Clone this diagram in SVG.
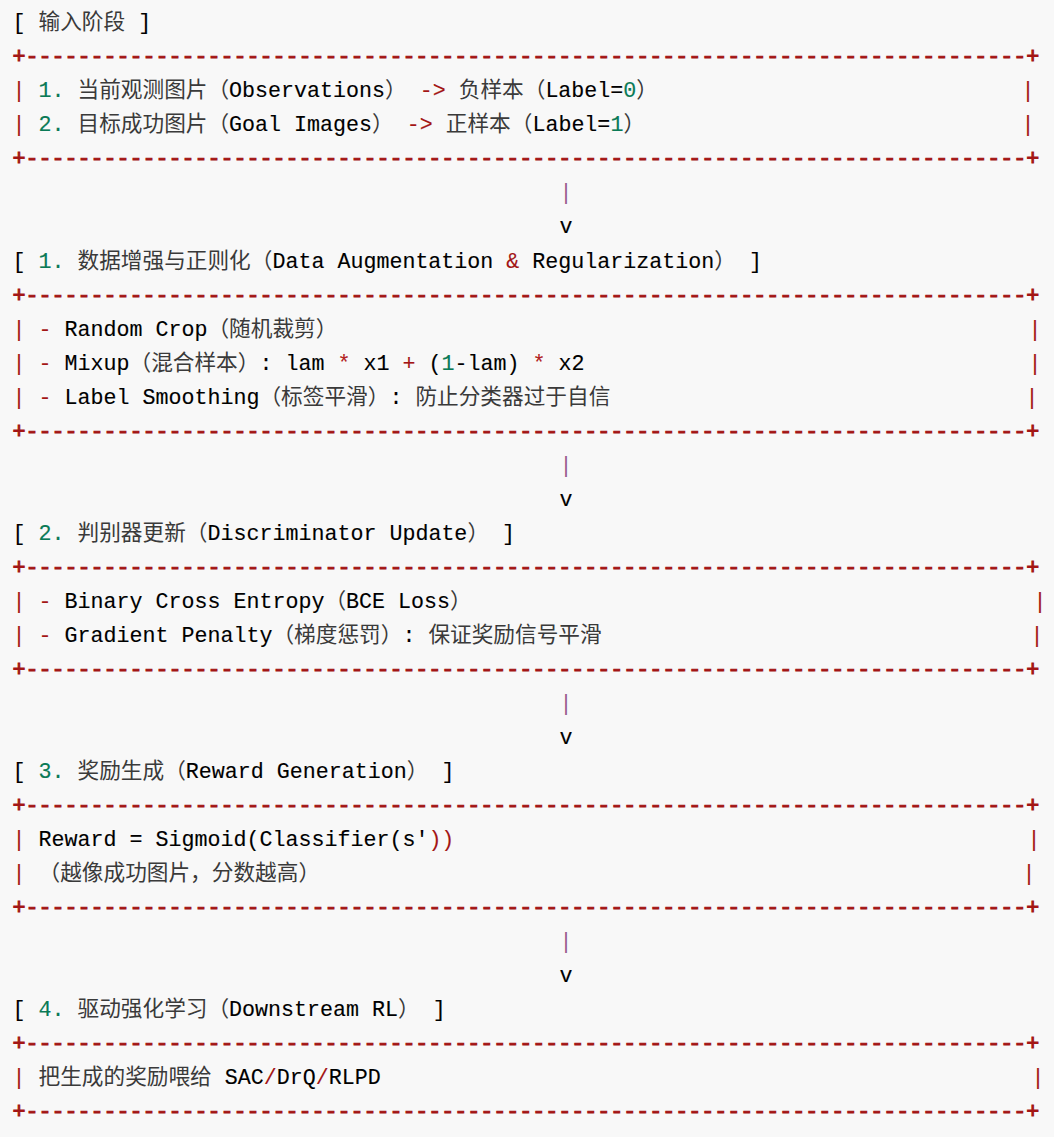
<svg xmlns="http://www.w3.org/2000/svg" width="1054" height="1137" viewBox="0 0 1054 1137">
<style>
text{font-family:"Liberation Mono","Noto Sans CJK SC",monospace;font-size:21.67px;fill:#000;stroke:#000;stroke-width:0.12px;white-space:pre}
.r{fill:#a31515;stroke:#a31515;stroke-width:0.1px}
.d{fill:#a31515;stroke:#a31515;stroke-width:1px}
.g{fill:#0a7a56;stroke:#0a7a56;stroke-width:0.15px}
.c{fill:#3a3a3a;stroke:none}
.p{fill:#9a5a8e;stroke:none}
.o{fill:#b22222;stroke:#b22222;stroke-width:0.1px}
</style>
<rect x="0" y="0" width="1054" height="1137" fill="#f8f8f8"/>
<g id="input-stage" xml:space="preserve">
<text x="12.5" y="29.3">[ <tspan class="c">输入阶段</tspan> ]</text>
<text x="12.5" y="63.33" class="d">+-----------------------------------------------------------------------------+</text>
<text x="12.5" y="97.36"><tspan class="r">|</tspan> <tspan class="g">1.</tspan> <tspan class="c">当前观测图片（</tspan>Observations<tspan class="c">）</tspan> <tspan class="r">-&gt;</tspan> <tspan class="c">负样本（</tspan>Label=<tspan class="g">0</tspan><tspan class="c">）</tspan></text>
<text x="1021.5" y="97.36" class="r">|</text>
<text x="12.5" y="131.39"><tspan class="r">|</tspan> <tspan class="g">2.</tspan> <tspan class="c">目标成功图片（</tspan>Goal Images<tspan class="c">）</tspan> <tspan class="r">-&gt;</tspan> <tspan class="c">正样本（</tspan>Label=<tspan class="g">1</tspan><tspan class="c">）</tspan></text>
<text x="1021.5" y="131.39" class="r">|</text>
<text x="12.5" y="165.42" class="d">+-----------------------------------------------------------------------------+</text>
</g>
<g id="augmentation" xml:space="preserve">
<text x="12.5" y="267.51">[ <tspan class="g">1.</tspan> <tspan class="c">数据增强与正则化（</tspan>Data Augmentation <tspan class="r">&amp;</tspan> Regularization<tspan class="c">）</tspan> ]</text>
<text x="12.5" y="301.54" class="d">+-----------------------------------------------------------------------------+</text>
<text x="12.5" y="335.57"><tspan class="r">|</tspan> <tspan class="r">-</tspan> Random Crop<tspan class="c">（随机裁剪）</tspan></text>
<text x="1028.5" y="335.57" class="r">|</text>
<text x="12.5" y="369.6"><tspan class="r">|</tspan> <tspan class="r">-</tspan> Mixup<tspan class="c">（混合样本）</tspan>: lam <tspan class="o">*</tspan> x1 <tspan class="r">+</tspan> (<tspan class="g">1</tspan>-lam) <tspan class="o">*</tspan> x2</text>
<text x="1028.5" y="369.6" class="r">|</text>
<text x="12.5" y="403.63"><tspan class="r">|</tspan> <tspan class="r">-</tspan> Label Smoothing<tspan class="c">（标签平滑）</tspan>: <tspan class="c">防止分类器过于自信</tspan></text>
<text x="1025.5" y="403.63" class="r">|</text>
<text x="12.5" y="437.66" class="d">+-----------------------------------------------------------------------------+</text>
</g>
<g id="discriminator" xml:space="preserve">
<text x="12.5" y="539.75">[ <tspan class="g">2.</tspan> <tspan class="c">判别器更新（</tspan>Discriminator Update<tspan class="c">）</tspan> ]</text>
<text x="12.5" y="573.78" class="d">+-----------------------------------------------------------------------------+</text>
<text x="12.5" y="607.81"><tspan class="r">|</tspan> <tspan class="r">-</tspan> Binary Cross Entropy<tspan class="c">（</tspan>BCE Loss<tspan class="c">）</tspan></text>
<text x="1033.5" y="607.81" class="r">|</text>
<text x="12.5" y="641.84"><tspan class="r">|</tspan> <tspan class="r">-</tspan> Gradient Penalty<tspan class="c">（梯度惩罚）</tspan>: <tspan class="c">保证奖励信号平滑</tspan></text>
<text x="1030.5" y="641.84" class="r">|</text>
<text x="12.5" y="675.87" class="d">+-----------------------------------------------------------------------------+</text>
</g>
<g id="reward" xml:space="preserve">
<text x="12.5" y="777.96">[ <tspan class="g">3.</tspan> <tspan class="c">奖励生成（</tspan>Reward Generation<tspan class="c">）</tspan> ]</text>
<text x="12.5" y="811.99" class="d">+-----------------------------------------------------------------------------+</text>
<text x="12.5" y="846.02"><tspan class="r">|</tspan> Reward = Sigmoid(Classifier(s'<tspan class="r">))</tspan></text>
<text x="1027.5" y="846.02" class="r">|</text>
<text x="12.5" y="880.05"><tspan class="r">|</tspan> <tspan class="c">（越像成功图片，分数越高）</tspan></text>
<text x="1022.5" y="880.05" class="r">|</text>
<text x="12.5" y="914.08" class="d">+-----------------------------------------------------------------------------+</text>
</g>
<g id="downstream" xml:space="preserve">
<text x="12.5" y="1016.17">[ <tspan class="g">4.</tspan> <tspan class="c">驱动强化学习（</tspan>Downstream RL<tspan class="c">）</tspan> ]</text>
<text x="12.5" y="1050.2" class="d">+-----------------------------------------------------------------------------+</text>
<text x="12.5" y="1084.23"><tspan class="r">|</tspan> <tspan class="c">把生成的奖励喂给</tspan> SAC<tspan class="r">/</tspan>DrQ<tspan class="r">/</tspan>RLPD</text>
<text x="1031.5" y="1084.23" class="r">|</text>
<text x="12.5" y="1118.26" class="d">+-----------------------------------------------------------------------------+</text>
</g>
<g id="connectors">
<text x="559.5" y="199.45" class="p">|</text>
<text x="559.5" y="233.48">v</text>
<text x="559.5" y="471.69" class="p">|</text>
<text x="559.5" y="505.72">v</text>
<text x="559.5" y="709.9" class="p">|</text>
<text x="559.5" y="743.93">v</text>
<text x="559.5" y="948.11" class="p">|</text>
<text x="559.5" y="982.14">v</text>
</g>
</svg>
